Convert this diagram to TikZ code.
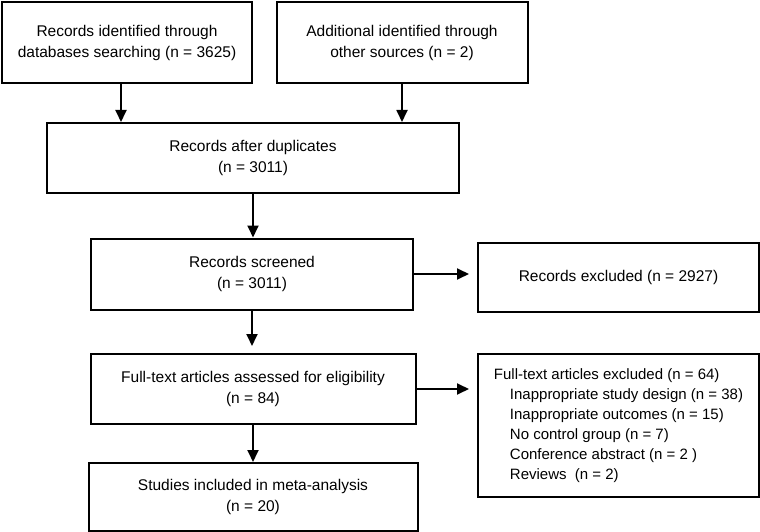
\documentclass[tikz,border=0pt]{standalone}
\usepackage{fontspec}
\setmainfont{Liberation Sans}
\usetikzlibrary{arrows.meta}
\begin{document}
\begin{tikzpicture}[x=1pt,y=-1pt,
  box/.style={draw,line width=2pt,align=center,inner sep=0pt,
    font=\fontsize{15.5}{21}\selectfont},
  arr/.style={line width=1.8pt,-{Triangle[width=11pt,length=12pt]}}]
  \useasboundingbox (0,0) rectangle (760,532);
  % identification
  \node[box,minimum width=250,minimum height=81] (ident) at (127,42.5)
    {Records identified through\\databases searching (n = 3625)};
  \node[box,minimum width=251,minimum height=81] (other) at (402,42.5)
    {Additional identified through\\other sources (n = 2)};
  \node[box,minimum width=412,minimum height=70] (dupl) at (253,158)
    {Records after duplicates\\(n = 3011)};
  % screening
  \node[box,minimum width=322,minimum height=71] (screen) at (252,274)
    {Records screened\\(n = 3011)};
  \node[box,minimum width=281,minimum height=69] (excl) at (618.5,277.5)
    {Records excluded (n = 2927)};
  % eligibility
  \node[box,minimum width=325,minimum height=70] (full) at (253,389)
    {Full-text articles assessed for eligibility\\(n = 84)};
  \node[box,align=left,minimum width=281,minimum height=143,
    font=\fontsize{15}{20}\selectfont] (fullexcl) at (618.5,425.5)
    {Full-text articles excluded (n = 64)\\
     \hspace*{16pt}Inappropriate study design (n = 38)\\
     \hspace*{16pt}Inappropriate outcomes (n = 15)\\
     \hspace*{16pt}No control group (n = 7)\\
     \hspace*{16pt}Conference abstract (n = 2 )\\
     \hspace*{16pt}Reviews\ \ (n = 2)};
  % included
  \node[box,minimum width=329,minimum height=68] (incl) at (253,497)
    {Studies included in meta-analysis\\(n = 20)};
  \draw[arr] ([xshift=-6pt]ident.south) -- ([xshift=-6pt]ident.south |- dupl.north);
  \draw[arr] (other.south) -- (other.south |- dupl.north);
  \draw[arr] (dupl.south) -- (dupl.south |- screen.north);
  \draw[arr] (screen.east) -- ([xshift=-8pt]screen.east -| excl.west);
  \draw[arr] (screen.south) -- ([yshift=7pt]screen.south |- full.north);
  \draw[arr] (full.east) -- ([xshift=-8pt]full.east -| fullexcl.west);
  \draw[arr] (full.south) -- (full.south |- incl.north);
\end{tikzpicture}
\end{document}
